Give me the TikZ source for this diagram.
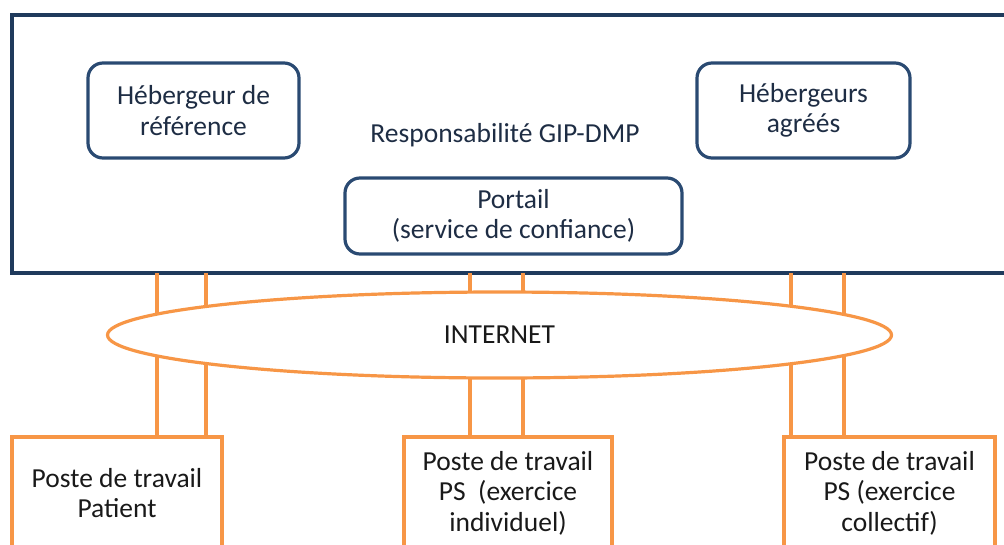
\documentclass[tikz,border=0pt]{standalone}
\usepackage{fontspec}
\setmainfont{Carlito}
\usetikzlibrary{shapes.geometric}
\definecolor{navy}{HTML}{1F3A5C}
\definecolor{boxblue}{HTML}{2A4A72}
\definecolor{txtblue}{HTML}{1E2D44}
\definecolor{orange}{HTML}{F79646}
\tikzset{
  hostbox/.style={draw=boxblue, line width=3.2pt, rounded corners=15pt, align=center, text=txtblue},
  postbox/.style={draw=orange, line width=3.2pt, align=center, minimum height=112pt, text=black!90},
  link/.style={draw=orange, line width=3.2pt},
}
\begin{document}
\begin{tikzpicture}[x=1pt, y=-1pt, font=\fontsize{27.5}{30.5}\selectfont]
\useasboundingbox (0,0) rectangle (1004,544);
\clip (0,0) rectangle (1004,544);
% zone GIP-DMP
\node[draw=navy, line width=3.6pt, minimum width=1000pt, minimum height=258pt] (resp) at (512,144){};
\node[text=txtblue] (resplabel) at (505,135){Responsabilité GIP-DMP};
\node[hostbox, minimum width=211pt, minimum height=95pt] (heberg) at (193.5,110.5){Hébergeur de\\référence};
\node[hostbox, minimum width=213pt, minimum height=95pt] (agrees) at (803.5,110.5){Hébergeurs\\agréés};
\node[hostbox, minimum width=337pt, minimum height=76pt] (portail) at (513.5,216){Portail\\(service de confiance)};
% postes de travail
\node[postbox, minimum width=210pt] (patient) at (117,493){Poste de travail\\Patient};
\node[postbox, minimum width=208pt] (psind) at (508,493){Poste de travail\\PS~ (exercice\\individuel)};
\node[postbox, minimum width=211pt] (pscol) at (889.5,493){Poste de travail\\PS (exercice\\collectif)};
% liaisons
\coordinate (l1) at (157,273);
\coordinate (l2) at (206,273);
\coordinate (l3) at (470,273);
\coordinate (l4) at (523,273);
\coordinate (l5) at (791,273);
\coordinate (l6) at (844,273);
\draw[link](l1) -- (l1 |- patient.north);
\draw[link](l2) -- (l2 |- patient.north);
\draw[link](l3) -- (l3 |- psind.north);
\draw[link](l4) -- (l4 |- psind.north);
\draw[link](l5) -- (l5 |- pscol.north);
\draw[link](l6) -- (l6 |- pscol.north);
\node[ellipse, draw=orange, line width=3.2pt, fill=white, minimum width=784pt, minimum height=86pt, inner sep=0pt, text=black!90] (internet) at (499.5,335){INTERNET};
\end{tikzpicture}
\end{document}
